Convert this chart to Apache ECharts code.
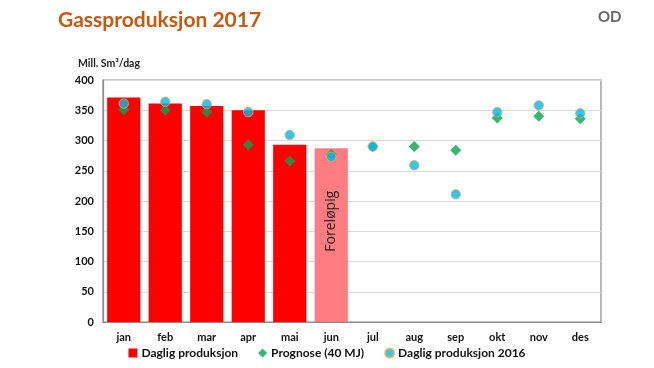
<!DOCTYPE html>
<html>
<head>
<meta charset="utf-8">
<script src="https://cdn.jsdelivr.net/npm/echarts@6/dist/echarts.min.js"></script>
<style>html,body{margin:0;padding:0;background:#fff}#c{width:654px;height:368px}</style>
</head>
<body>
<div id="c"></div>
<script>
var months = ['jan','feb','mar','apr','mai','jun','jul','aug','sep','okt','nov','des'];
var dagligProduksjon = [371, 361, 357, 350, 293, 287, null, null, null, null, null, null];
var prognose = [351, 350, 347, 293, 266, 277, 290, 290, 284, 337, 340, 336];
var produksjon2016 = [361, 364, 360, 347, 309, 273, 290, 259, 211, 347, 358, 345];
var yTicks = [0, 50, 100, 150, 200, 250, 300, 350, 400];
var preliminaryIndex = 5;

var font = 'Lato, "Open Sans", sans-serif';
var chart = echarts.init(document.getElementById('c'), null, {renderer: 'canvas'});
var barData = dagligProduksjon.map(function (v, i) {
  if (i === preliminaryIndex) {
    return {
      value: v,
      itemStyle: {color: '#FF7C80'},
      label: {
        show: true, position: 'inside', rotate: 90, formatter: 'Foreløpig',
        color: '#1a1a1a', fontSize: 14, fontFamily: 'Open Sans, sans-serif', offset: [14, 0]
      }
    };
  }
  return v;
});
chart.setOption({
  animation: false,
  backgroundColor: '#fff',
  title: {
    text: 'Gassproduksjon 2017', left: 53, top: 5,
    textStyle: {color: '#C55A11', fontSize: 21, fontWeight: 'bold', fontFamily: font}
  },
  graphic: [
    {type: 'text', left: 598, top: 10, style: {text: 'OD', fill: '#666', font: 'bold 15px ' + font}},
    {type: 'text', left: 78, top: 58, style: {text: 'Mill. Sm³/dag', fill: '#222', font: 'bold 10.5px ' + font}}
  ],
  grid: {left: 103, right: 53, top: 80, bottom: 46, show: true, borderColor: '#8c8c8c', borderWidth: 1.2},
  legend: {
    bottom: 4, left: 'center', itemGap: 20, itemWidth: 9, itemHeight: 9,
    textStyle: {fontSize: 12, fontWeight: 'bold', color: '#111', fontFamily: font, padding: [0, 0, 0, -1]},
    data: [
      {name: 'Daglig produksjon', icon: 'rect'},
      {name: 'Prognose (40 MJ)', icon: 'diamond'},
      {name: 'Daglig produksjon 2016', icon: 'circle'}
    ]
  },
  xAxis: {
    type: 'category', data: months,
    axisLine: {show: true, lineStyle: {color: '#8c8c8c', width: 1.2}},
    axisTick: {show: false},
    axisLabel: {color: '#111', fontWeight: 'bold', fontSize: 11, fontFamily: font, margin: 10}
  },
  yAxis: {
    type: 'value', min: 0, max: 400, interval: 50,
    axisLine: {show: true, lineStyle: {color: '#8c8c8c', width: 1.2}},
    axisTick: {show: false},
    splitLine: {lineStyle: {color: '#d9d9d9', width: 1}},
    axisLabel: {color: '#111', fontWeight: 'bold', fontSize: 11, fontFamily: font, margin: 9,
      formatter: function (v) { return yTicks.indexOf(v) >= 0 ? String(v) : ''; }}
  },
  series: [
    {
      name: 'Daglig produksjon', type: 'bar', data: barData, barCategoryGap: '20%',
      itemStyle: {color: '#FF0000'}
    },
    {
      name: 'Prognose (40 MJ)', type: 'scatter', data: prognose, symbol: 'diamond', symbolSize: 11,
      itemStyle: {color: '#00A651'}, z: 3
    },
    {
      name: 'Daglig produksjon 2016', type: 'scatter', data: produksjon2016, symbol: 'circle', symbolSize: 9.5,
      itemStyle: {color: '#00B8F0', borderColor: '#E8B04A', borderWidth: 1}, z: 4
    }
  ]
});
</script>
</body>
</html>
